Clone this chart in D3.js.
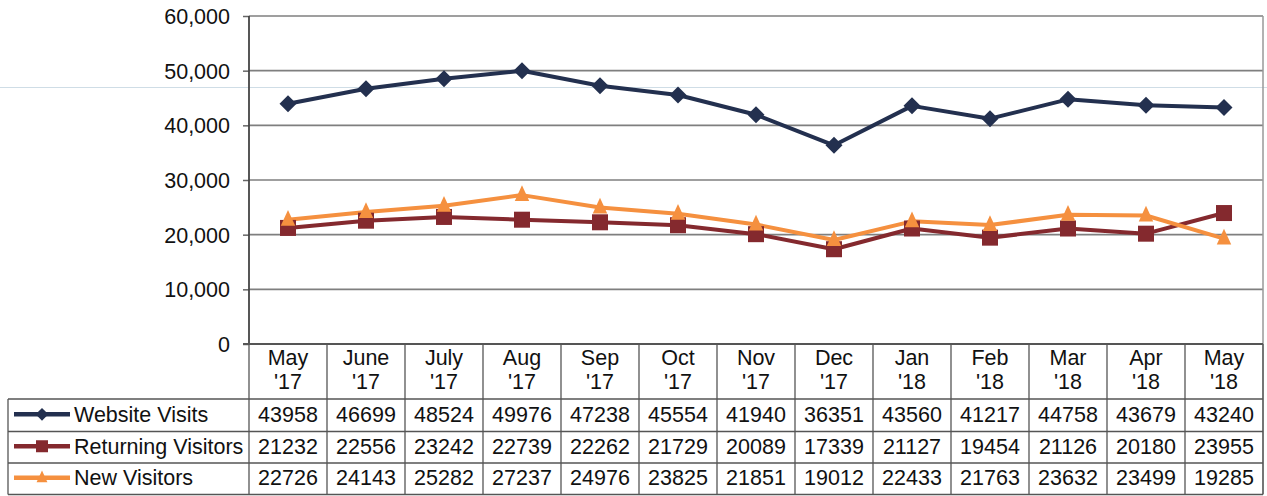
<!DOCTYPE html>
<html><head><meta charset="utf-8">
<script src="https://cdn.jsdelivr.net/npm/d3@7"></script>
<style>
html,body{margin:0;padding:0;background:#fff;}
svg text{font-family:"Liberation Sans",Arial,sans-serif;fill:#111;}
</style></head>
<body><svg id="c" width="1267" height="496"></svg>
<script>
const monthLabels = ["May","June","July","Aug","Sep","Oct","Nov","Dec","Jan","Feb","Mar","Apr","May"];
const yearLabels = ["'17","'17","'17","'17","'17","'17","'17","'17","'18","'18","'18","'18","'18"];
const websiteVisits = [43958,46699,48524,49976,47238,45554,41940,36351,43560,41217,44758,43679,43240];
const returningVisitors = [21232,22556,23242,22739,22262,21729,20089,17339,21127,19454,21126,20180,23955];
const newVisitors = [22726,24143,25282,27237,24976,23825,21851,19012,22433,21763,23632,23499,19285];
const seriesNames = ["Website Visits","Returning Visitors","New Visitors"];
const yTicks = [0,10000,20000,30000,40000,50000,60000];

const series = [
  {name:seriesNames[0], values:websiteVisits, color:"#23304f", marker:"diamond"},
  {name:seriesNames[1], values:returningVisitors, color:"#84292e", marker:"square"},
  {name:seriesNames[2], values:newVisitors, color:"#f5903f", marker:"triangle"}
];

const svg = d3.select("#c");
const L = 249, R = 1263, T = 16, B = 344;
const x = d3.scaleBand().domain(d3.range(monthLabels.length)).range([L,R]);
const y = d3.scaleLinear().domain([0,60000]).range([B,T]);
const fs = 21.5;

// faint scan line
svg.append("line").attr("x1",0).attr("x2",1267).attr("y1",87.5).attr("y2",87.5)
  .attr("stroke","#cfdde6").attr("stroke-width",1.2);

// gridlines
const yAxis = d3.axisLeft(y).tickValues(yTicks).tickSize(6).tickFormat(d3.format(","));
const gy = svg.append("g").attr("transform",`translate(${L},0)`).call(yAxis);
gy.select(".domain").remove();
gy.selectAll(".tick line").attr("stroke","#666").attr("stroke-width",1.5);
gy.selectAll(".tick text").attr("x",-19).attr("dy","0.35em").style("font-size",fs+"px")
  .style("font-family","Liberation Sans, Arial, sans-serif").attr("fill","#111");
svg.append("g").selectAll("line").data(yTicks.filter(d=>d>0)).join("line")
  .attr("x1",L).attr("x2",R).attr("y1",d=>y(d)).attr("y2",d=>y(d))
  .attr("stroke","#7f7f7f").attr("stroke-width",1.7);

// axes frame
svg.append("line").attr("x1",L).attr("x2",L).attr("y1",T).attr("y2",B).attr("stroke","#444").attr("stroke-width",1.8);
svg.append("line").attr("x1",R).attr("x2",R).attr("y1",T).attr("y2",494).attr("stroke","#999").attr("stroke-width",1.5);

// table
const rowTop = [344,399,431.5,463,494.5];
const tg = svg.append("g");
const colEdges = d3.range(monthLabels.length+1).map(i=> i<monthLabels.length ? x(i) : R);
tg.selectAll("line.v").data(colEdges).join("line")
  .attr("x1",d=>d).attr("x2",d=>d).attr("y1",B).attr("y2",494.5)
  .attr("stroke","#555").attr("stroke-width",1.3);
tg.append("line").attr("x1",8).attr("x2",8).attr("y1",399).attr("y2",494.5).attr("stroke","#555").attr("stroke-width",1.3);
tg.selectAll("line.h").data(rowTop.slice(1)).join("line")
  .attr("x1",8).attr("x2",R).attr("y1",d=>d).attr("y2",d=>d)
  .attr("stroke","#555").attr("stroke-width",1.3);
svg.append("line").attr("x1",L-6).attr("x2",R).attr("y1",B).attr("y2",B).attr("stroke","#555").attr("stroke-width",1.8);

// header labels
const hdr = tg.append("g").selectAll("text").data(monthLabels).join("text")
  .attr("x",(d,i)=>x(i)+x.bandwidth()/2).attr("text-anchor","middle").style("font-size",fs+"px");
hdr.append("tspan").attr("x",(d,i)=>x(i)+x.bandwidth()/2).attr("y",365).text(d=>d);
hdr.append("tspan").attr("x",(d,i)=>x(i)+x.bandwidth()/2).attr("y",389).text((d,i)=>yearLabels[i]);

// values + legend
series.forEach((s,si)=>{
  const cy = (rowTop[si+1]+rowTop[si+2])/2 - 1;
  tg.append("g").selectAll("text").data(s.values).join("text")
    .attr("x",(d,i)=>x(i)+x.bandwidth()/2).attr("y",cy).attr("dy","0.36em")
    .attr("text-anchor","middle").style("font-size",fs+"px").text(d=>d);
  tg.append("line").attr("x1",14).attr("x2",70).attr("y1",cy).attr("y2",cy)
    .attr("stroke",s.color).attr("stroke-width",4.5);
  drawMarker(tg, s.marker, 42, cy, s.color, 0.75);
  tg.append("text").attr("x",74).attr("y",cy).attr("dy","0.36em").style("font-size",fs+"px").text(s.name);
});

function drawMarker(g, type, cx, cy, color, k){
  if(type==="diamond"){
    const r=8.5*k;
    g.append("path").attr("d",`M${cx},${cy-r}L${cx+r},${cy}L${cx},${cy+r}L${cx-r},${cy}Z`).attr("fill",color);
  } else if(type==="square"){
    const r=8*k;
    g.append("rect").attr("x",cx-r).attr("y",cy-r).attr("width",2*r).attr("height",2*r).attr("fill",color);
  } else {
    const r=8.5*k;
    g.append("path").attr("d",`M${cx},${cy-r*1.15}L${cx+r*0.85},${cy+r*0.7}L${cx-r*0.85},${cy+r*0.7}Z`).attr("fill",color);
  }
}

// lines
const line = d3.line().x((d,i)=>x(i)+x.bandwidth()/2).y(d=>y(d));
const order = [1,2,0];
order.forEach(si=>{
  const s = series[si];
  svg.append("path").datum(s.values).attr("d",line).attr("fill","none")
    .attr("stroke",s.color).attr("stroke-width",4).attr("stroke-linejoin","round");
});
order.forEach(si=>{
  const s = series[si];
  const mg = svg.append("g");
  s.values.forEach((v,i)=>drawMarker(mg, s.marker, x(i)+x.bandwidth()/2, y(v), s.color, 1));
});
</script></body></html>
